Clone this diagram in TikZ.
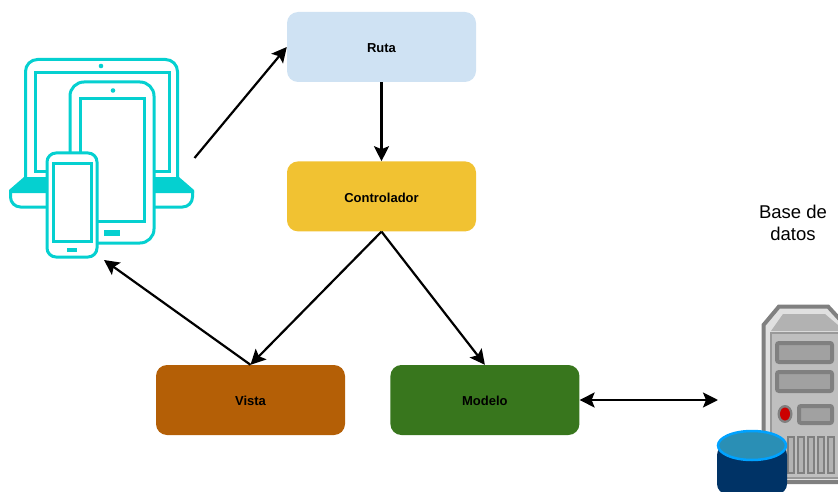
\documentclass[tikz,border=0pt]{standalone}
\usepackage{fontspec}
\setmainfont{Liberation Sans}
\usetikzlibrary{arrows.meta,positioning}
\definecolor{rutablue}{HTML}{CFE2F3}
\definecolor{ctrlyellow}{HTML}{F1C232}
\definecolor{vistabrown}{HTML}{B45F06}
\definecolor{modelgreen}{HTML}{38761D}
\definecolor{devteal}{HTML}{05D0D0}
\definecolor{dbnavy}{HTML}{003366}
\definecolor{dbring}{HTML}{00A2FF}
\definecolor{dbtop}{HTML}{2A8FB5}
\tikzset{
    %Define standard arrow tip
    >={Stealth[length=15pt,width=15pt,inset=3pt]},
    %Define style for boxes
    layer/.style={
           rectangle,
           rounded corners=11pt,
           minimum width=189pt,
           minimum height=70pt,
           font=\bfseries\fontsize{13}{15}\selectfont,
           text height=11.5pt,
           text depth=0pt,
           text centered},
    % Define arrow style
    pil/.style={
           ->,
           line width=2.2pt},
    % Device icon
    devline/.style={
           draw=devteal,
           line width=3pt},
    devbody/.style={
           devline,
           fill=white},
    devfill/.style={
           fill=devteal},
    % Server icon
    srvpart/.style={
           draw=black!50,
           line width=4pt,
           fill=black!37}
}
\begin{document}
\begin{tikzpicture}[x=1pt,y=-1pt]
\useasboundingbox (0,0) rectangle (838,492);

 %nodes
\node[layer, fill=rutablue](ruta) at (381.5,47){Ruta};
\node[layer, fill=ctrlyellow, below=79pt of ruta](ctrl){Controlador};
\node[layer, fill=vistabrown](vista) at (250.5,400){Vista};
\node[layer, fill=modelgreen, right=45pt of vista](modelo){Modelo};
\node[font=\fontsize{18.5}{22}\selectfont, align=center](bd) at (793,223){Base de\\datos};

\coordinate(devout) at (194.5,158);
\coordinate(devin) at (104,260);
\coordinate(srv) at (718,400);

 %laptop
\draw[devline, rounded corners=12pt] (25.5,178) -- (25.5,59.5) -- (177.5,59.5) -- (177.5,178);
\draw[devline] (35,73) rectangle (169,171);
\fill[devfill] (101,66) circle (2.3pt);
\fill[devfill] (24,177) -- (179,177) -- (194,190) -- (194,193) -- (9,193) -- (9,190) -- cycle;
\draw[devline, rounded corners=10pt] (10.5,191) -- (10.5,207) -- (192.5,207) -- (192.5,191);

 %tablet
\draw[devbody, rounded corners=14pt] (70,82) rectangle (154,243);
\draw[devline] (80,99) rectangle (144,221);
\fill[devfill] (113,90.5) circle (2.3pt);
\fill[devfill] (104,230) rectangle (120,236);

 %phone
\draw[devbody, rounded corners=9pt] (47,153) rectangle (97,257);
\draw[devline] (53,164) rectangle (91,241);
\fill[devfill] (67,248) rectangle (77,252);

 %server
\draw[draw=black!50, line width=4pt, fill=black!12] (763.5,482) -- (763.5,325) -- (779,306.5) -- (828,306.5) -- (845,325) -- (845,482) -- cycle;
\fill[black!30] (771,331) -- (783,314) -- (825,314) -- (845,331) -- cycle;
\draw[draw=black!40, line width=1.5pt, fill=black!25] (771,333) rectangle (845,478);
\draw[srvpart, rounded corners=2pt] (777,343) rectangle (832,362);
\draw[srvpart, rounded corners=2pt] (777,372) rectangle (832,391);
\draw[srvpart, rounded corners=2pt] (799,406) rectangle (832,423);
\fill[black!50] (785,414) ellipse (7.5pt and 9pt);
\fill[red!80!black] (785,414) ellipse (5pt and 6.5pt);
\foreach \vx in {788,798,808,818,828}
    \draw[draw=black!50, line width=2pt, fill=black!30] (\vx,437) rectangle (\vx+6,473);

 %database
\fill[dbnavy, rounded corners=10pt] (717,445) -- (717,494) -- (787,494) -- (787,445) -- cycle;
\draw[draw=dbring, line width=2.5pt, fill=dbtop] (752,445.5) ellipse (34pt and 14.5pt);

 %connectors
\draw[pil] (devout) -- (ruta.west);
\draw[pil] (ruta.south) -- (ctrl.north);
\draw[pil] (ctrl.south) -- (vista.north);
\draw[pil] (ctrl.south) -- (modelo.north);
\draw[pil] (vista.north) -- (devin);
\draw[pil, <->] (modelo.east) -- (srv);
\end{tikzpicture}
\end{document}
